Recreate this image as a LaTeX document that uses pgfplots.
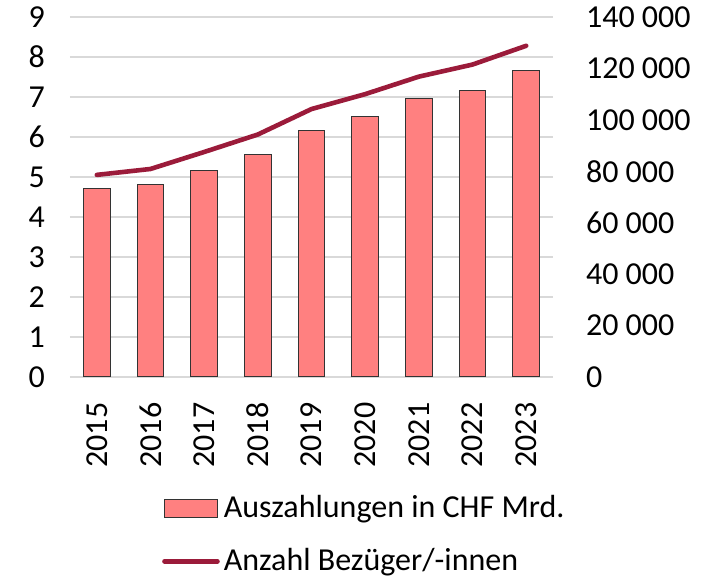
\documentclass[border=0pt]{standalone}
\usepackage{fontspec}
\setmainfont{Carlito}
\usepackage{pgfplots}
\pgfplotsset{compat=1.18}
\definecolor{barc}{HTML}{FF8080}
\definecolor{linec}{HTML}{9B1B3A}
\definecolor{gridc}{HTML}{D9D9D9}
\pgfplotsset{
  barleg/.style={legend image code/.code={\draw[##1] (0pt,-4.5pt) rectangle (26.5pt,4.5pt);}},
  lineleg/.style={legend image code/.code={\draw[##1] (0pt,0pt) -- (26.5pt,0pt);}},
}
\begin{document}
\fontsize{16}{19}\selectfont
\begin{tikzpicture}
\pgfplotsset{
  myax/.style={
    scale only axis, width=241.5pt, height=180pt,
    at={(35pt,100pt)}, anchor=south west,
    xmin=-0.5, xmax=8.5,
    axis line style={draw=none}, tick style={draw=none},
    /pgf/number format/assume math mode=true,
    ticklabel style={font=\fontsize{16}{19}\selectfont},
  }
}
\begin{axis}[myax,
  ymin=0, ymax=9, ytick={0,1,...,9},
  ymajorgrids, grid style={gridc, line width=0.9pt},
  xtick={0,...,8},
  xticklabels={2015,2016,2017,2018,2019,2020,2021,2022,2023},
  xticklabel style={rotate=90, anchor=east, yshift=0pt, xshift=-3pt},
  yticklabel style={xshift=-7pt},
  ybar, bar width=0.5,
]
\addplot[fill=barc, draw=black!80, line width=0.5pt] coordinates {
(0,4.72) (1,4.82) (2,5.17) (3,5.55) (4,6.17) (5,6.52) (6,6.95) (7,7.17) (8,7.67)};
\end{axis}
\begin{axis}[myax,
  axis y line*=right, axis x line=none,
  ymin=0, ymax=140000, ytick={0,20000,...,140000},
  scaled y ticks=false,
  /pgf/number format/fixed, /pgf/number format/1000 sep={\ },
  yticklabel style={xshift=11pt},
  legend style={at={(0.19,-0.315)}, anchor=north west, draw=none, fill=none,
    inner sep=0pt, row sep=9pt, font=\fontsize{16}{19}\selectfont,
    nodes={inner xsep=2pt}},
  legend cell align=left,
]
\addlegendimage{fill=barc, draw=black!80, line width=0.5pt, barleg}
\addlegendentry{Auszahlungen in CHF Mrd.}
\addplot[linec, line width=2.3pt, line join=round, line cap=round, lineleg] coordinates {
(0,78600) (1,80900) (2,87500) (3,94300) (4,104200) (5,110000) (6,116800) (7,121500) (8,128800)};
\addlegendentry{Anzahl Bezüger/-innen}
\end{axis}
\pgfresetboundingbox
\path (0,0) rectangle (353pt,288.5pt);
\end{tikzpicture}
\end{document}
